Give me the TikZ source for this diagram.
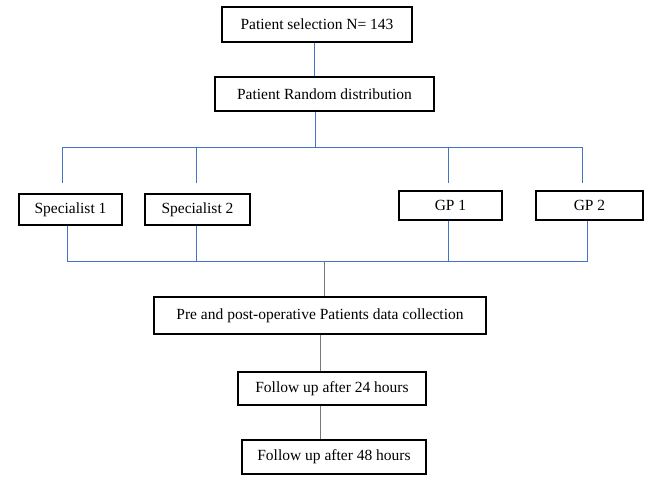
\documentclass[tikz,border=0pt]{standalone}
\usepackage{fontspec}
\setmainfont{Liberation Serif}
\definecolor{lblue}{RGB}{68,114,196}
\definecolor{lgray}{RGB}{120,120,120}
\begin{document}
\begin{tikzpicture}[x=1pt,y=-1pt,
  box/.style={draw=black,line width=1.2pt,inner sep=0pt,font=\fontsize{15.5}{17}\selectfont},
  ln/.style={draw=lblue,line width=1pt}]
\useasboundingbox[fill=white] (0,0) rectangle (648,483);
\newcommand{\bx}[6]{\node[box,minimum width=#3-#2,minimum height=#5-#4] (#1) at ({(#2+#3)/2},{(#4+#5)/2}) {#6};}
\bx{sel}{222}{412}{7}{42}{Patient selection N= 143}
\bx{rnd}{215}{434}{77}{111}{Patient Random distribution}
\bx{s1}{19}{122}{194}{225}{Specialist 1}
\bx{s2}{145}{250}{194}{225}{Specialist 2}
\bx{g1}{399}{502}{191}{220}{GP 1}
\bx{g2}{536}{643}{191}{220}{GP 2}
\bx{pp}{154}{486}{297}{334}{Pre and post-operative Patients data collection}
\bx{f24}{238}{426}{372}{405}{Follow up after 24 hours}
\bx{f48}{242}{426}{440}{474}{Follow up after 48 hours}
\coordinate (b1) at (315,147);
\coordinate (b2) at (324,261);
\draw[ln] (314,0|-sel.south) -- (314,0|-rnd.north);
\draw[ln] (rnd.south-|315,0) -- (b1);
\draw[ln] (62,183) -- (62,147) -- (582,147) -- (582,183);
\draw[ln] (196,147) -- (196,183);
\draw[ln] (448,147) -- (448,183);
\draw[ln] (67,0|-s1.south) -- (67,261) -- (587,261) -- (587,0|-g2.south);
\draw[ln] (196,0|-s2.south) -- (196,261);
\draw[ln] (448,0|-g1.south) -- (448,261);
\draw[ln,draw=lgray] (b2) -- (pp.north-|b2);
\draw[ln,draw=lgray] (320,0|-pp.south) -- (320,0|-f24.north);
\draw[ln,draw=lgray] (320,0|-f24.south) -- (320,0|-f48.north);
\end{tikzpicture}
\end{document}
